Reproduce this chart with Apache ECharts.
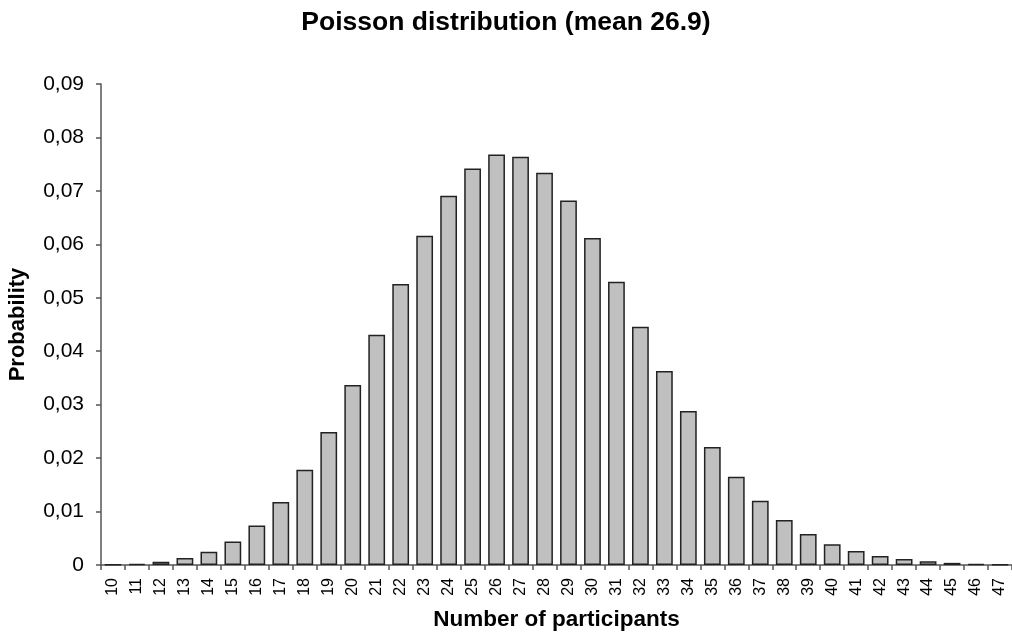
<!DOCTYPE html>
<html>
<head>
<meta charset="utf-8">
<script src="https://cdn.jsdelivr.net/npm/echarts@6/dist/echarts.min.js"></script>
<style>html,body{margin:0;padding:0;background:#fff}#c{width:1012px;height:637px}</style>
</head>
<body>
<div id="c"></div>
<script>
const categories = ['10','11','12','13','14','15','16','17','18','19','20','21','22','23','24','25','26','27','28','29','30','31','32','33','34','35','36','37','38','39','40','41','42','43','44','45','46','47'];
const probability = [0.00005,0.0002,0.0006,0.0013,0.0025,0.0044,0.0074,0.0118,0.0178,0.0249,0.0337,0.0431,0.0526,0.0616,0.0691,0.0742,0.0768,0.0764,0.0734,0.0682,0.0612,0.0530,0.0446,0.0363,0.0288,0.0221,0.0165,0.0120,0.0084,0.0058,0.0039,0.0026,0.0017,0.0011,0.0007,0.0004,0.0002,0.0001];
const titleText = 'Poisson distribution (mean 26.9)';
const xName = 'Number of participants';
const yName = 'Probability';

const chart = echarts.init(document.getElementById('c'), null, {renderer: 'canvas'});
const font = 'Liberation Sans, Arial, sans-serif';
chart.setOption({
  animation: false,
  title: {
    text: titleText, left: 'center', top: 4,
    textStyle: {fontFamily: font, fontSize: 26.5, fontWeight: 'bold', color: '#000'}
  },
  grid: {left: 101, right: 0, top: 84, bottom: 72, containLabel: false, outerBoundsMode: 'none'},
  xAxis: {
    type: 'category', data: categories,
    name: xName, nameLocation: 'middle', nameGap: 43,
    nameTextStyle: {fontFamily: font, fontSize: 22.5, fontWeight: 'bold', color: '#000'},
    axisLine: {lineStyle: {color: '#555', width: 1.5}},
    axisTick: {show: true, alignWithLabel: false, length: 5, lineStyle: {color: '#555', width: 1.5}},
    axisLabel: {rotate: 90, margin: 13, fontFamily: font, fontSize: 16, color: '#000', interval: 0}
  },
  yAxis: {
    type: 'value', min: 0, max: 0.09, interval: 0.01,
    name: yName, nameLocation: 'middle', nameGap: 72, nameRotate: 90,
    nameTextStyle: {fontFamily: font, fontSize: 22, fontWeight: 'bold', color: '#000'},
    axisLine: {show: true, lineStyle: {color: '#555', width: 1.5}},
    axisTick: {show: true, length: 5, lineStyle: {color: '#555', width: 1.5}},
    splitLine: {show: false},
    axisLabel: {
      margin: 17, fontFamily: font, fontSize: 21, color: '#000',
      formatter: v => v === 0 ? '0' : v.toFixed(2).replace('.', ',')
    }
  },
  series: [{
    type: 'bar', data: probability, barCategoryGap: '30%',
    itemStyle: {color: '#c0c0c0', borderColor: '#222', borderWidth: 1.5}
  }]
});
</script>
</body>
</html>
